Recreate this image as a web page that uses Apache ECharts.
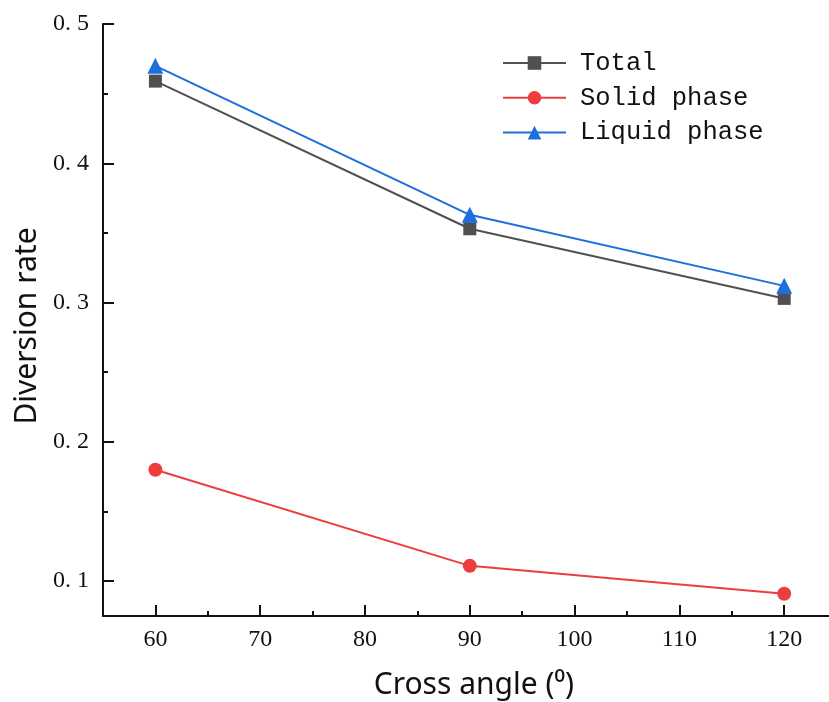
<!DOCTYPE html>
<html>
<head>
<meta charset="utf-8">
<script src="https://cdn.jsdelivr.net/npm/echarts@6/dist/echarts.min.js"></script>
<style>
  html, body { margin: 0; padding: 0; background: #fff; }
  #chart { width: 829px; height: 702px; }
</style>
</head>
<body>
<div id="chart"></div>
<script>
const angles = [60, 90, 120];
const total = [0.459, 0.353, 0.303];
const solid = [0.180, 0.111, 0.091];
const liquid = [0.470, 0.363, 0.312];

const xTicks = [60, 70, 80, 90, 100, 110, 120];
const xMinorTicks = [65, 75, 85, 95, 105, 115, 125];
const yTicks = [0.1, 0.2, 0.3, 0.4, 0.5];
const yMinorTicks = [0.15, 0.25, 0.35, 0.45];

const AXIS_COLOR = "#111";
const TICK_FONT = "'Liberation Serif', 'DejaVu Serif', serif";
const NAME_FONT = "'Noto Sans', 'Open Sans', sans-serif";

function pairs(values) {
  return angles.map((a, i) => [a, values[i]]);
}

function series(name, values, color, symbol, size) {
  return {
    name: name,
    type: "line",
    data: pairs(values),
    symbol: symbol,
    symbolSize: size,
    lineStyle: { width: 2, color: color },
    itemStyle: { color: color },
    z: 3,
  };
}

const chart = echarts.init(document.getElementById("chart"));

chart.setOption({
  animation: false,
  grid: { left: 103, right: -7.6, top: 24, bottom: 86, outerBoundsMode: "none" },
  legend: {
    orient: "vertical",
    left: 502,
    top: 50,
    padding: 0,
    itemWidth: 63,
    itemHeight: 17,
    itemGap: 8.8,
    textStyle: {
      fontFamily: "'Liberation Mono', 'DejaVu Sans Mono', monospace",
      fontSize: 25.5,
      lineHeight: 26,
      color: "#111",
      padding: [0, 0, 0, 9],
    },
    data: ["Total", "Solid phase", "Liquid phase"],
  },
  xAxis: [
    {
      type: "value",
      min: 55,
      max: 125,
      name: "Cross angle (⁰)",
      nameLocation: "middle",
      nameGap: 54,
      nameTextStyle: { fontFamily: NAME_FONT, fontSize: 30, color: "#111", padding: [0, 0, 0, 8] },
      axisLine: { show: true, lineStyle: { color: AXIS_COLOR, width: 2 } },
      axisTick: { show: true, inside: true, length: 11, customValues: xTicks, lineStyle: { color: AXIS_COLOR, width: 2 } },
      axisLabel: { customValues: xTicks, margin: 12, fontFamily: TICK_FONT, fontSize: 24, color: "#111" },
      splitLine: { show: false },
    },
    {
      type: "value",
      position: "bottom",
      min: 55,
      max: 125,
      axisLine: { show: false },
      axisTick: { show: true, inside: true, length: 5, customValues: xMinorTicks, lineStyle: { color: AXIS_COLOR, width: 2 } },
      axisLabel: { show: false },
      splitLine: { show: false },
    },
  ],
  yAxis: [
    {
      type: "value",
      min: 0.075,
      max: 0.5,
      name: "Diversion rate",
      nameLocation: "middle",
      nameRotate: 90,
      nameGap: 60,
      nameTextStyle: { fontFamily: NAME_FONT, fontSize: 30, color: "#111", padding: [0, 12, 0, 0] },
      axisLine: { show: true, lineStyle: { color: AXIS_COLOR, width: 2 } },
      axisTick: { show: true, inside: true, length: 11, customValues: yTicks, lineStyle: { color: AXIS_COLOR, width: 2 } },
      axisLabel: {
        customValues: yTicks,
        margin: 14,
        fontFamily: TICK_FONT,
        fontSize: 24,
        color: "#111",
        formatter: (v) => v.toFixed(1).replace(".", ". "),
      },
      splitLine: { show: false },
    },
    {
      type: "value",
      position: "left",
      min: 0.075,
      max: 0.5,
      axisLine: { show: false },
      axisTick: { show: true, inside: true, length: 5, customValues: yMinorTicks, lineStyle: { color: AXIS_COLOR, width: 2 } },
      axisLabel: { show: false },
      splitLine: { show: false },
    },
  ],
  series: [
    series("Total", total, "#505050", "rect", 13),
    series("Solid phase", solid, "#ee3d3f", "circle", 14),
    series("Liquid phase", liquid, "#1d6fdc", "triangle", 16),
  ],
});
</script>
</body>
</html>
